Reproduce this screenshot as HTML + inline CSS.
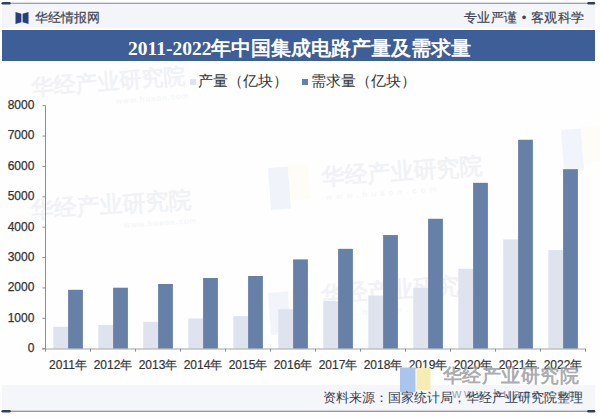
<!DOCTYPE html>
<html><head><meta charset="utf-8"><style>
*{margin:0;padding:0;box-sizing:border-box}
html,body{width:600px;height:419px;overflow:hidden;background:#fefefe;font-family:"Liberation Sans",sans-serif}
.abs{position:absolute}
#topline{left:0;top:2.5px;width:595px;height:1px;background:#7d8590}
.cap{height:2.4px;width:9px;background:#2e3f5c;border-radius:1.2px}
#title{left:2px;top:30px;width:593px;height:31px;background:#3e5e97}
#title span{position:absolute;left:126px;top:5px;font-family:"Liberation Serif",serif;font-weight:bold;font-size:19.5px;color:#fff;white-space:nowrap;letter-spacing:0px}
.hdr{font-size:13px;color:#3f4550;white-space:nowrap;-webkit-text-stroke:0.2px #3f4550}
.leg{font-size:14.6px;color:#333;white-space:nowrap}
#band{left:2px;top:385px;width:593px;height:26px;background:#f5f6f9}
#botline{left:0;top:411px;width:595px;height:1px;background:#7d8590}
</style></head><body>
<div class="abs" style="left:2px;top:3.5px;width:593px;height:24.5px;background:#f4f5f9"></div>
<svg class="abs" style="left:15px;top:11px" width="15" height="14" viewBox="0 0 15 14">
<path d="M0.5 1 L6.4 2.8 L6.4 11.2 L0.5 13 Z" fill="#23427d"/>
<path d="M13.5 1 L7.6 2.8 L7.6 11.2 L13.5 13 Z" fill="#23427d"/>
</svg>
<div class="abs hdr" style="left:35px;top:9px">华经情报网</div>
<div class="abs hdr" style="left:464px;top:9px;letter-spacing:.45px">专业严谨 • 客观科学</div>
<svg class="abs" style="left:0;top:0" width="600" height="419" viewBox="0 0 600 419" font-family="Liberation Sans, sans-serif">
<g font-family="Liberation Sans, sans-serif" fill="#f1f2f5" font-weight="bold">
<text x="0" y="0" font-size="22" transform="translate(32,95) rotate(-4.5)">华经产业研究院</text>
<text x="0" y="0" font-size="8" letter-spacing="0.8" transform="translate(116,104) rotate(-4.5)" fill="#f5f6f8">www.huaon.com</text>
<text x="0" y="0" font-size="23" transform="translate(31,218) rotate(-3.8)">华经产业研究院</text>
<text x="0" y="0" font-size="8" letter-spacing="0.8" transform="translate(124,228) rotate(-3.8)" fill="#f5f6f8">www.huaon.com</text>
<text x="0" y="0" font-size="23" transform="translate(322,185) rotate(-4.2)">华经产业研究院</text>
<text x="0" y="0" font-size="8" letter-spacing="4" transform="translate(326,200) rotate(-4.2)" fill="#f5f6f8">www.huaon.com</text>
</g>
<g font-family="Liberation Sans, sans-serif" fill="#f1f2f5" font-weight="bold"><text x="0" y="0" font-size="23" transform="translate(322,303) rotate(-4.2)">华经产业研究院</text>
<text x="0" y="0" font-size="8" letter-spacing="4" transform="translate(326,318) rotate(-4.2)" fill="#f5f6f8">www.huaon.com</text></g>
<g transform="translate(268,293) rotate(-4.2)"><rect x="0" y="0" width="20" height="42" fill="#f1f4fa"/><rect x="20" y="-2" width="20" height="36" fill="#fdfcf6"/></g>
<g transform="translate(561,130) rotate(-4.2)"><rect x="0" y="0" width="20" height="42" fill="#f1f4fa"/><rect x="20" y="-2" width="20" height="36" fill="#fdfcf6"/></g>
<g transform="translate(268,168) rotate(-4.2)"><rect x="0" y="0" width="20" height="42" fill="#f0f4fa"/><rect x="20" y="-2" width="20" height="36" fill="#fdfcf5"/></g>
<rect x="53.30" y="326.74" width="14.8" height="21.96" fill="#dfe3ee"/>
<rect x="68.10" y="289.80" width="14.8" height="58.90" fill="#6780a8"/>
<rect x="98.30" y="325.04" width="14.8" height="23.66" fill="#dfe3ee"/>
<rect x="113.10" y="287.71" width="14.8" height="60.99" fill="#6780a8"/>
<rect x="143.30" y="321.82" width="14.8" height="26.88" fill="#dfe3ee"/>
<rect x="158.10" y="283.97" width="14.8" height="64.73" fill="#6780a8"/>
<rect x="188.30" y="318.42" width="14.8" height="30.28" fill="#dfe3ee"/>
<rect x="203.10" y="277.99" width="14.8" height="70.71" fill="#6780a8"/>
<rect x="233.30" y="316.14" width="14.8" height="32.56" fill="#dfe3ee"/>
<rect x="248.10" y="275.98" width="14.8" height="72.72" fill="#6780a8"/>
<rect x="278.30" y="309.21" width="14.8" height="39.49" fill="#dfe3ee"/>
<rect x="293.10" y="259.37" width="14.8" height="89.33" fill="#6780a8"/>
<rect x="323.30" y="300.98" width="14.8" height="47.72" fill="#dfe3ee"/>
<rect x="338.10" y="248.83" width="14.8" height="99.87" fill="#6780a8"/>
<rect x="368.30" y="295.51" width="14.8" height="53.19" fill="#dfe3ee"/>
<rect x="383.10" y="235.07" width="14.8" height="113.63" fill="#6780a8"/>
<rect x="413.30" y="287.80" width="14.8" height="60.90" fill="#dfe3ee"/>
<rect x="428.10" y="218.76" width="14.8" height="129.94" fill="#6780a8"/>
<rect x="458.30" y="268.78" width="14.8" height="79.92" fill="#dfe3ee"/>
<rect x="473.10" y="182.82" width="14.8" height="165.88" fill="#6780a8"/>
<rect x="503.30" y="239.47" width="14.8" height="109.23" fill="#dfe3ee"/>
<rect x="518.10" y="139.78" width="14.8" height="208.92" fill="#6780a8"/>
<rect x="548.30" y="250.16" width="14.8" height="98.54" fill="#dfe3ee"/>
<rect x="563.10" y="169.18" width="14.8" height="179.52" fill="#6780a8"/>
<line x1="45.5" y1="105.7" x2="45.5" y2="348.7" stroke="#8a8e96" stroke-width="1"/>
<line x1="42" y1="349.0" x2="585.5" y2="349.0" stroke="#a0a3a8" stroke-width="1.2"/>
<line x1="42.5" y1="348.70" x2="45.5" y2="348.70" stroke="#8a8e96" stroke-width="1"/>
<text x="34.4" y="352.00" text-anchor="end" font-size="12" fill="#333" stroke="#333" stroke-width="0.25">0</text>
<line x1="42.5" y1="318.32" x2="45.5" y2="318.32" stroke="#8a8e96" stroke-width="1"/>
<text x="34.4" y="321.62" text-anchor="end" font-size="12" fill="#333" stroke="#333" stroke-width="0.25">1000</text>
<line x1="42.5" y1="287.95" x2="45.5" y2="287.95" stroke="#8a8e96" stroke-width="1"/>
<text x="34.4" y="291.25" text-anchor="end" font-size="12" fill="#333" stroke="#333" stroke-width="0.25">2000</text>
<line x1="42.5" y1="257.57" x2="45.5" y2="257.57" stroke="#8a8e96" stroke-width="1"/>
<text x="34.4" y="260.88" text-anchor="end" font-size="12" fill="#333" stroke="#333" stroke-width="0.25">3000</text>
<line x1="42.5" y1="227.20" x2="45.5" y2="227.20" stroke="#8a8e96" stroke-width="1"/>
<text x="34.4" y="230.50" text-anchor="end" font-size="12" fill="#333" stroke="#333" stroke-width="0.25">4000</text>
<line x1="42.5" y1="196.82" x2="45.5" y2="196.82" stroke="#8a8e96" stroke-width="1"/>
<text x="34.4" y="200.12" text-anchor="end" font-size="12" fill="#333" stroke="#333" stroke-width="0.25">5000</text>
<line x1="42.5" y1="166.45" x2="45.5" y2="166.45" stroke="#8a8e96" stroke-width="1"/>
<text x="34.4" y="169.75" text-anchor="end" font-size="12" fill="#333" stroke="#333" stroke-width="0.25">6000</text>
<line x1="42.5" y1="136.07" x2="45.5" y2="136.07" stroke="#8a8e96" stroke-width="1"/>
<text x="34.4" y="139.38" text-anchor="end" font-size="12" fill="#333" stroke="#333" stroke-width="0.25">7000</text>
<line x1="42.5" y1="105.70" x2="45.5" y2="105.70" stroke="#8a8e96" stroke-width="1"/>
<text x="34.4" y="109.00" text-anchor="end" font-size="12" fill="#333" stroke="#333" stroke-width="0.25">8000</text>
<line x1="45.5" y1="348.7" x2="45.5" y2="351.7" stroke="#8a8e96" stroke-width="1"/>
<line x1="90.5" y1="348.7" x2="90.5" y2="351.7" stroke="#8a8e96" stroke-width="1"/>
<line x1="135.5" y1="348.7" x2="135.5" y2="351.7" stroke="#8a8e96" stroke-width="1"/>
<line x1="180.5" y1="348.7" x2="180.5" y2="351.7" stroke="#8a8e96" stroke-width="1"/>
<line x1="225.5" y1="348.7" x2="225.5" y2="351.7" stroke="#8a8e96" stroke-width="1"/>
<line x1="270.5" y1="348.7" x2="270.5" y2="351.7" stroke="#8a8e96" stroke-width="1"/>
<line x1="315.5" y1="348.7" x2="315.5" y2="351.7" stroke="#8a8e96" stroke-width="1"/>
<line x1="360.5" y1="348.7" x2="360.5" y2="351.7" stroke="#8a8e96" stroke-width="1"/>
<line x1="405.5" y1="348.7" x2="405.5" y2="351.7" stroke="#8a8e96" stroke-width="1"/>
<line x1="450.5" y1="348.7" x2="450.5" y2="351.7" stroke="#8a8e96" stroke-width="1"/>
<line x1="495.5" y1="348.7" x2="495.5" y2="351.7" stroke="#8a8e96" stroke-width="1"/>
<line x1="540.5" y1="348.7" x2="540.5" y2="351.7" stroke="#8a8e96" stroke-width="1"/>
<line x1="585.5" y1="348.7" x2="585.5" y2="351.7" stroke="#8a8e96" stroke-width="1"/>
<text x="68.00" y="369.3" text-anchor="middle" font-size="12" fill="#333" stroke="#333" stroke-width="0.2">2011年</text>
<text x="113.00" y="369.3" text-anchor="middle" font-size="12" fill="#333" stroke="#333" stroke-width="0.2">2012年</text>
<text x="158.00" y="369.3" text-anchor="middle" font-size="12" fill="#333" stroke="#333" stroke-width="0.2">2013年</text>
<text x="203.00" y="369.3" text-anchor="middle" font-size="12" fill="#333" stroke="#333" stroke-width="0.2">2014年</text>
<text x="248.00" y="369.3" text-anchor="middle" font-size="12" fill="#333" stroke="#333" stroke-width="0.2">2015年</text>
<text x="293.00" y="369.3" text-anchor="middle" font-size="12" fill="#333" stroke="#333" stroke-width="0.2">2016年</text>
<text x="338.00" y="369.3" text-anchor="middle" font-size="12" fill="#333" stroke="#333" stroke-width="0.2">2017年</text>
<text x="383.00" y="369.3" text-anchor="middle" font-size="12" fill="#333" stroke="#333" stroke-width="0.2">2018年</text>
<text x="428.00" y="369.3" text-anchor="middle" font-size="12" fill="#333" stroke="#333" stroke-width="0.2">2019年</text>
<text x="473.00" y="369.3" text-anchor="middle" font-size="12" fill="#333" stroke="#333" stroke-width="0.2">2020年</text>
<text x="518.00" y="369.3" text-anchor="middle" font-size="12" fill="#333" stroke="#333" stroke-width="0.2">2021年</text>
<text x="563.00" y="369.3" text-anchor="middle" font-size="12" fill="#333" stroke="#333" stroke-width="0.2">2022年</text>
</svg>
<div class="abs" id="title"><span>2011-2022年中国集成电路产量及需求量</span></div>
<div class="abs" style="left:189.5px;top:79px;width:6px;height:6px;background:#dfe3ee"></div>
<div class="abs leg" style="left:198px;top:72px">产量（亿块）</div>
<div class="abs" style="left:302px;top:79px;width:6px;height:6px;background:#6780a8"></div>
<div class="abs leg" style="left:311px;top:72px">需求量（亿块）</div>
<div class="abs" id="band"></div>
<svg class="abs" style="left:0;top:0" width="600" height="419" viewBox="0 0 600 419">
<rect x="400" y="367.5" width="15.5" height="24.5" fill="#a9c5ec"/>
<rect x="416.5" y="368" width="14" height="22" fill="#f7edb4"/>
<text x="442.5" y="381.8" font-size="19.2" letter-spacing="0.5" fill="#9fa1a6" fill-opacity="0.9" font-family="Liberation Sans, sans-serif" font-weight="bold">华经产业研究院</text>
<text x="452" y="397.5" font-size="13" fill="#a4a6ab" font-family="Liberation Sans, sans-serif" letter-spacing="2.6">www.huaon.com</text>
</svg>
<div class="abs" style="left:323px;top:389px;font-size:13px;color:#323c52;white-space:nowrap">资料来源：国家统计局，华经产业研究院整理</div>
<svg class="abs" style="left:0;top:0" width="600" height="419" viewBox="0 0 600 419">
<line x1="1" y1="3.3" x2="595" y2="3.3" stroke="#7d8590" stroke-width="1.1"/>
<line x1="3" y1="3.3" x2="9.5" y2="3.3" stroke="#2e3f5c" stroke-width="2.4" stroke-linecap="round"/>
<line x1="588.5" y1="3.3" x2="594" y2="3.3" stroke="#2e3f5c" stroke-width="2.4" stroke-linecap="round"/>
<line x1="1" y1="411.3" x2="595" y2="411.3" stroke="#6f7680" stroke-width="1.1"/>
<line x1="3" y1="411.3" x2="9.5" y2="411.3" stroke="#2e3f5c" stroke-width="2.6" stroke-linecap="round"/>
<line x1="588.5" y1="411.3" x2="594" y2="411.3" stroke="#2e3f5c" stroke-width="2.6" stroke-linecap="round"/>
</svg>
</body></html>
